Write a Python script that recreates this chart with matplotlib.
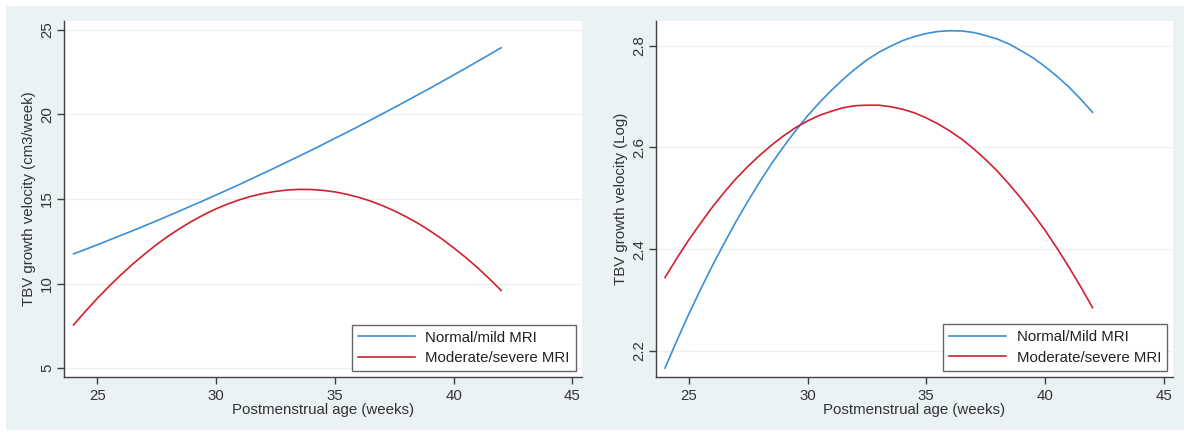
import matplotlib
matplotlib.use("Agg")
import matplotlib.pyplot as plt
from matplotlib.patches import Rectangle

plt.rcParams['font.family'] = ['Liberation Sans', 'DejaVu Sans']

# Data (postmenstrual age in weeks, half-week steps)
weeks = [24, 24.5, 25, 25.5, 26, 26.5, 27, 27.5, 28, 28.5, 29, 29.5, 30, 30.5,
         31, 31.5, 32, 32.5, 33, 33.5, 34, 34.5, 35, 35.5, 36, 36.5, 37, 37.5,
         38, 38.5, 39, 39.5, 40, 40.5, 41, 41.5, 42]

# Left panel: TBV growth velocity (cm3/week)
normal_cm3 = [11.75, 12.02, 12.29, 12.57, 12.85, 13.13, 13.42, 13.71, 14.01, 14.31,
              14.62, 14.92, 15.24, 15.55, 15.87, 16.20, 16.53, 16.86, 17.20, 17.54,
              17.88, 18.23, 18.59, 18.94, 19.30, 19.67, 20.04, 20.41, 20.79, 21.17,
              21.55, 21.94, 22.34, 22.73, 23.14, 23.54, 23.95]
severe_cm3 = [7.55, 8.35, 9.12, 9.84, 10.52, 11.16, 11.75, 12.31, 12.82, 13.28,
              13.70, 14.08, 14.42, 14.71, 14.96, 15.17, 15.33, 15.45, 15.53, 15.57,
              15.56, 15.51, 15.42, 15.28, 15.10, 14.88, 14.61, 14.30, 13.95, 13.56,
              13.12, 12.64, 12.11, 11.55, 10.94, 10.28, 9.59]

# Right panel: TBV growth velocity (Log)
normal_log = [2.166, 2.220, 2.272, 2.321, 2.368, 2.412, 2.455, 2.495, 2.533, 2.569,
              2.602, 2.633, 2.662, 2.688, 2.712, 2.734, 2.754, 2.772, 2.787, 2.799,
              2.810, 2.818, 2.824, 2.828, 2.8295, 2.829, 2.826, 2.820, 2.813, 2.803,
              2.790, 2.776, 2.759, 2.740, 2.719, 2.695, 2.669]
severe_log = [2.344, 2.382, 2.418, 2.451, 2.483, 2.512, 2.539, 2.563, 2.585, 2.605,
              2.623, 2.639, 2.652, 2.663, 2.671, 2.678, 2.682, 2.683, 2.683, 2.680,
              2.675, 2.668, 2.658, 2.646, 2.632, 2.616, 2.597, 2.576, 2.553, 2.527,
              2.499, 2.469, 2.437, 2.402, 2.365, 2.326, 2.285]

x_ticks = [25, 30, 35, 40, 45]
left_yticks = [5, 10, 15, 20, 25]
right_yticks = [2.2, 2.4, 2.6, 2.8]
right_yticklabels = ["2.2", "2.4", "2.6", "2.8"]

left_labels = ["Normal/mild MRI", "Moderate/severe MRI"]
right_labels = ["Normal/Mild MRI", "Moderate/severe MRI"]

BG = "#EAF2F3"
BLUE = "#3A8FD6"
RED = "#D0202E"
AXC = "#404040"
GRID = "#EEF1F2"

W, H = 1184, 433
fig = plt.figure(figsize=(W / 100, H / 100), dpi=100, facecolor="white")
fig.patches.append(Rectangle((6 / W, 3 / H), 1 - 6 / W, 1 - 9 / H,
                             transform=fig.transFigure, facecolor=BG,
                             edgecolor="none", zorder=-10))


def make_ax(px_left, px_right, px_top, px_bottom):
    return fig.add_axes([px_left / W, (H - px_bottom) / H,
                         (px_right - px_left) / W, (px_bottom - px_top) / H])


def style(ax, yticks, yticklabels, ylabel, labels, ylim):
    ax.set_facecolor("white")
    ax.set_xlim(23.6, 45.4)
    ax.set_ylim(*ylim)
    ax.set_xticks(x_ticks)
    ax.set_yticks(yticks)
    ax.set_yticklabels(yticklabels, rotation=90, va="center")
    for s in ["top", "right"]:
        ax.spines[s].set_visible(False)
    for s in ["left", "bottom"]:
        ax.spines[s].set_color(AXC)
        ax.spines[s].set_linewidth(1.0)
    ax.tick_params(axis="both", colors=AXC, labelcolor="#333333",
                   labelsize=10.8, length=5, width=1.0, direction="out")
    ax.tick_params(axis="y", pad=2)
    ax.grid(axis="y", color=GRID, linewidth=1.0)
    ax.set_axisbelow(True)
    ax.set_xlabel("Postmenstrual age (weeks)", fontsize=10.8, color="#333333", labelpad=0)
    ax.set_ylabel(ylabel, fontsize=10.8, color="#333333", labelpad=3)
    leg = ax.legend(labels, loc="lower right", bbox_to_anchor=(0.988, 0.017),
                    borderaxespad=0, fancybox=False, frameon=True, fontsize=10.8,
                    handlelength=3.8, handletextpad=0.7, borderpad=0.4,
                    labelspacing=0.42)
    leg.get_frame().set_edgecolor(AXC)
    leg.get_frame().set_linewidth(1.0)
    for t in leg.get_texts():
        t.set_color("#222222")


ax1 = make_ax(64, 582, 21, 377)
ax1.plot(weeks, normal_cm3, color=BLUE, lw=1.2)
ax1.plot(weeks, severe_cm3, color=RED, lw=1.2)
style(ax1, left_yticks, [str(v) for v in left_yticks],
      "TBV growth velocity (cm3/week)", left_labels, (4.47, 25.53))

ax2 = make_ax(655.5, 1173.3, 21, 376.7)
ax2.plot(weeks, normal_log, color=BLUE, lw=1.2)
ax2.plot(weeks, severe_log, color=RED, lw=1.2)
style(ax2, right_yticks, right_yticklabels,
      "TBV growth velocity (Log)", right_labels, (2.149, 2.8486))

fig.savefig("out.png", dpi=100, facecolor=fig.get_facecolor())
